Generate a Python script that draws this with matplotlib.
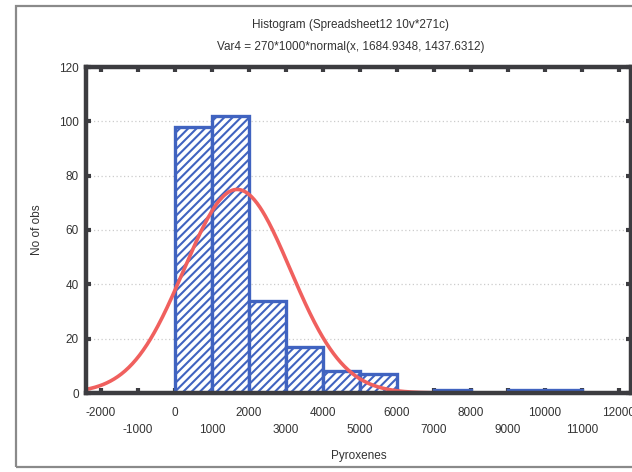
import numpy as np
import matplotlib
matplotlib.use("Agg")
import matplotlib.pyplot as plt
from matplotlib.patches import Rectangle

plt.rcParams['font.family'] = ['Liberation Sans', 'DejaVu Sans']
plt.rcParams['hatch.linewidth'] = 1.5

# histogram data (bin width 1000)
bin_left = [0, 1000, 2000, 3000, 4000, 5000, 6000, 7000, 8000, 9000, 10000, 11000]
counts = [98, 102, 34, 17, 8, 7, 0, 1, 0, 1, 1, 0]
n_obs = 270
mean = 1684.9348
sd = 1437.6312

xticks = list(range(-2000, 12001, 1000))
yticks = [0, 20, 40, 60, 80, 100, 120]

blue = '#4063c0'
red = '#f0605e'
spine = '#3c3c40'
txt = '#333333'

fig = plt.figure(figsize=(6.32, 4.72), dpi=100)
# outer frame of the window
fig.patches.append(Rectangle((16 / 632, 5 / 472), 1.0, 461 / 472, transform=fig.transFigure,
                             fill=False, edgecolor='#8a8a8a', lw=1.6, zorder=0))
ax = fig.add_axes([86 / 632, 1 - 393 / 472, (631 - 86) / 632, (393 - 67) / 472])

ax.bar(bin_left, counts, width=1000, align='edge', facecolor='white', edgecolor=blue,
       hatch='////', lw=2.4, zorder=2)

xs = np.linspace(-2400, 12330, 600)
ys = n_obs * 1000 * np.exp(-0.5 * ((xs - mean) / sd) ** 2) / (sd * np.sqrt(2 * np.pi))
ax.plot(xs, ys, color=red, lw=2.6, zorder=3, solid_capstyle='round')

ax.set_xlim(-2400, 12330)
ax.set_ylim(0, 120)
ax.set_xticks(xticks)
ax.set_xticklabels([str(v) if (v // 1000) % 2 == 0 else '\n' + str(v) for v in xticks],
                   linespacing=1.55)
ax.set_yticks(yticks)
ax.yaxis.grid(True, ls=(0, (1, 2)), color='#cccccc', lw=0.9, zorder=0)
ax.set_axisbelow(True)

for s in ax.spines.values():
    s.set_color(spine)
    s.set_linewidth(3.2)
    s.set_zorder(4)
ax.tick_params(direction='in', length=3.5, width=3, color=spine, labelsize=8.5,
               labelcolor=txt, top=True, right=True, pad=6)
ax.tick_params(axis='x', pad=10)
ax.tick_params(axis='y', pad=5)

ax.set_xlabel('Pyroxenes', fontsize=8.5, labelpad=10, color=txt)
ax.set_ylabel('No of obs', fontsize=8.5, labelpad=12, color=txt)
fig.text(0.555, 1 - 25 / 472, 'Histogram (Spreadsheet12 10v*271c)', ha='center', va='center',
         fontsize=8.5, color=txt)
fig.text(0.555, 1 - 47 / 472, 'Var4 = 270*1000*normal(x, 1684.9348, 1437.6312)', ha='center',
         va='center', fontsize=8.5, color=txt)

fig.savefig('out.png', dpi=100)
